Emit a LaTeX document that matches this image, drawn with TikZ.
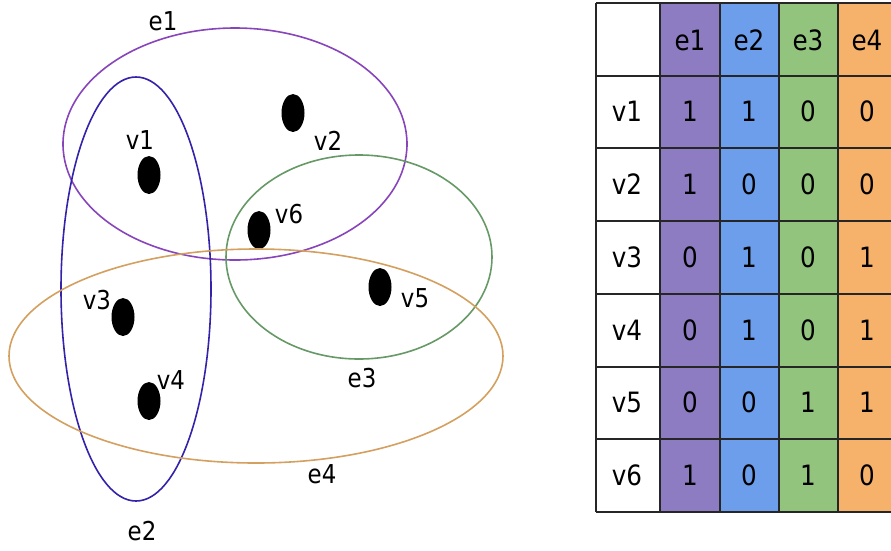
\documentclass[tikz,border=0pt]{standalone}
\usepackage{fontspec}
\setmainfont{DejaVu Sans}[FakeStretch=0.88]
\usepackage{tikz}
\usetikzlibrary{shapes.geometric}

\definecolor{eonecol}{HTML}{8844BB}
\definecolor{etwocol}{HTML}{3322AA}
\definecolor{ethreecol}{HTML}{669966}
\definecolor{efourcol}{HTML}{D4A060}
\definecolor{eonefill}{HTML}{8E7CC3}
\definecolor{etwofill}{HTML}{6D9EEB}
\definecolor{ethreefill}{HTML}{93C47D}
\definecolor{efourfill}{HTML}{F6B26B}

\begin{document}
\begin{tikzpicture}[
    x=1pt, y=-1pt,
    font=\fontsize{26}{30}\selectfont,
    vertex/.style={ellipse, fill=black, minimum width=23pt, minimum height=38pt, inner sep=0pt},
    hedge/.style={line width=1.6pt},
    lbl/.style={inner sep=0pt},
    tbl/.style={lbl, font=\fontsize{28}{32}\selectfont},
    grid/.style={line width=2pt, black!85}
]
\useasboundingbox (0,0) rectangle (891,550);

% Vertices
\node[vertex] (v1) at (149,175) {};
\node[vertex] (v2) at (293,113) {};
\node[vertex] (v6) at (259,230) {};
\node[vertex] (v3) at (123,317) {};
\node[vertex] (v4) at (149,401) {};
\node[vertex] (v5) at (380,287) {};

\node[lbl] (v1-lbl) at (140,140) {v1};
\node[lbl] (v2-lbl) at (328,141) {v2};
\node[lbl] (v6-lbl) at (289,214) {v6};
\node[lbl] (v3-lbl) at (97,300) {v3};
\node[lbl] (v4-lbl) at (171,380) {v4};
\node[lbl] (v5-lbl) at (415,298) {v5};

% Hyperedges
\draw[hedge, eonecol] (235,144) ellipse [x radius=172pt, y radius=116pt];
\draw[hedge, etwocol] (136,289) ellipse [x radius=75pt, y radius=212pt];
\draw[hedge, ethreecol] (359,257) ellipse [x radius=133pt, y radius=102pt];
\draw[hedge, efourcol] (256,356) ellipse [x radius=247pt, y radius=107pt];

\node[lbl] (e1-lbl) at (163,21) {e1};
\node[lbl] (e2-lbl) at (142,531) {e2};
\node[lbl] (e3-lbl) at (362,378) {e3};
\node[lbl] (e4-lbl) at (322,474) {e4};

% Incidence matrix
\fill[eonefill] (660,3) rectangle (720,512);
\fill[etwofill] (720,3) rectangle (779,512);
\fill[ethreefill] (779,3) rectangle (838,512);
\fill[efourfill] (838,3) rectangle (891,512);

\foreach \k in {0,...,7}
    \draw[grid] (596,3+72.7*\k) -- (891,3+72.7*\k);
\foreach \x in {596,660,720,779,838}
    \draw[grid] (\x,3) -- (\x,512);

\foreach \j in {1,...,4}
    \node[tbl] (h\j) at (690+59*\j-59,40) {e\j};

\foreach \row [count=\i] in {{1,1,0,0},{1,0,0,0},{0,1,0,1},{0,1,0,1},{0,0,1,1},{1,0,1,0}} {
    \node[tbl] (r\i) at (627,39+72.7*\i) {v\i};
    \foreach \val [count=\j] in \row
        \node[tbl] (c\i-\j) at (690+59*\j-59,39+72.7*\i) {\val};
}
\end{tikzpicture}
\end{document}
